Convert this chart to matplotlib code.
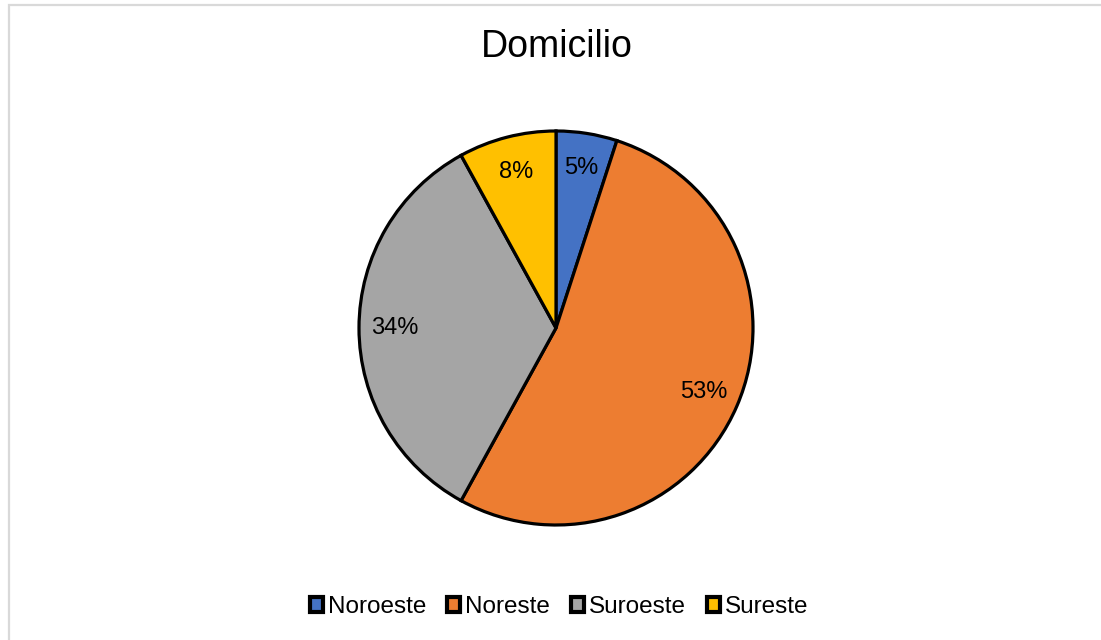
import matplotlib
matplotlib.use("Agg")
import matplotlib.pyplot as plt
from matplotlib.patches import Patch, Rectangle

plt.rcParams['font.family'] = ['Liberation Sans', 'DejaVu Sans']

categories = ["Noroeste", "Noreste", "Suroeste", "Sureste"]
values = [5, 53, 34, 8]
colors = ["#4472C4", "#ED7D31", "#A5A5A5", "#FFC000"]

W, H = 1101, 640
fig = plt.figure(figsize=(W / 100, H / 100), dpi=100)
ax = fig.add_axes([0, 0, 1, 1])

wedges, texts, autotexts = ax.pie(
    values,
    colors=colors,
    startangle=90,
    counterclock=False,
    center=(556, 312),
    radius=197,
    autopct=lambda p: f"{p:.0f}%",
    pctdistance=0.82,
    wedgeprops=dict(edgecolor="black", linewidth=2.3),
    textprops=dict(fontsize=17, color="black"),
    frame=True,
)
ax.set_xlim(0, W)
ax.set_ylim(0, H)
ax.set_aspect("equal")
ax.axis("off")

# chart-area border (light grey, open to the right/bottom edges)
fig.patches.append(Rectangle((8.5 / W, -0.1), 1.2, (H - 5.5) / H + 0.1,
                             transform=fig.transFigure, fill=False,
                             edgecolor="#d9d9d9", linewidth=1.6))

fig.text(557 / W, 1 - 47 / H, "Domicilio", ha="center", va="center",
         fontsize=27, color="black")

handles = [Patch(facecolor=c, edgecolor="black", linewidth=3) for c in colors]
fig.legend(handles, categories, loc="center", bbox_to_anchor=(559 / W, 33 / H),
           ncol=4, frameon=False, fontsize=17.5, handlelength=0.55,
           handleheight=0.55, handletextpad=0.2, columnspacing=0.85)

fig.savefig("out.png", dpi=100, facecolor="white")
